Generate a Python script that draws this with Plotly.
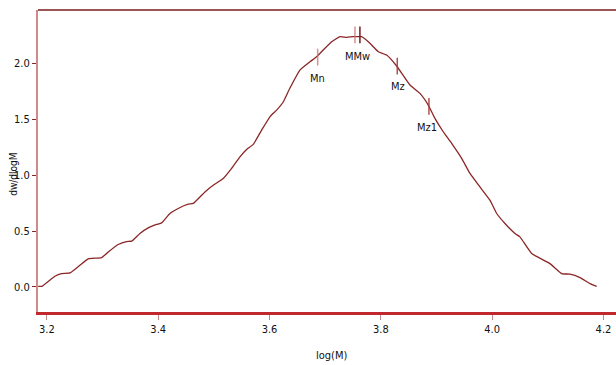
import plotly.graph_objects as go

# Molecular weight distribution curve
log_m = [3.1844, 3.191, 3.2144, 3.2264, 3.2413, 3.2593, 3.2742, 3.2983, 3.3102, 3.3281,
         3.3432, 3.3522, 3.3671, 3.3820, 3.3971, 3.4061, 3.4210, 3.4359, 3.4539, 3.4629,
         3.4839, 3.4988, 3.5168, 3.5319, 3.5468, 3.5588, 3.5707, 3.5858, 3.6007, 3.6128,
         3.6246, 3.6367, 3.6546, 3.6726, 3.6846, 3.6965, 3.7116, 3.7265, 3.7385, 3.7504,
         3.7655, 3.7804, 3.7954, 3.8104, 3.8284, 3.8523, 3.8702, 3.8852, 3.8972, 3.9121,
         3.9272, 3.9452, 3.9601, 3.9780, 3.9960, 4.0081, 4.0230, 4.0410, 4.0499, 4.0710,
         4.1039, 4.1249, 4.1398, 4.1578, 4.1757, 4.1878]
dw_dlogm = [0.006, 0.006, 0.096, 0.120, 0.125, 0.194, 0.251, 0.263, 0.313, 0.380,
            0.406, 0.409, 0.478, 0.528, 0.559, 0.573, 0.657, 0.702, 0.740, 0.747,
            0.850, 0.910, 0.970, 1.060, 1.164, 1.230, 1.275, 1.403, 1.522, 1.582,
            1.654, 1.779, 1.940, 2.014, 2.059, 2.119, 2.193, 2.238, 2.233, 2.238,
            2.238, 2.179, 2.104, 2.074, 1.976, 1.806, 1.731, 1.627, 1.508, 1.388,
            1.284, 1.150, 1.015, 0.895, 0.776, 0.657, 0.568, 0.478, 0.448, 0.299,
            0.209, 0.120, 0.114, 0.084, 0.030, 0.006]

# Average markers
marker_names = ["Mn", "Mp", "Mw", "Mz", "Mz1"]
marker_x = [3.6865, 3.7535, 3.7624, 3.8295, 3.8864]
marker_y = [2.056, 2.255, 2.255, 1.975, 1.615]
marker_colors = ["rgba(200,120,120,0.8)", "rgba(200,120,120,0.8)", "#7a1a1a",
                 "rgba(170,60,60,0.9)", "rgba(170,60,60,0.9)"]
label_texts = ["Mn", "MMw", "Mz", "Mz1"]
label_x = [3.6855, 3.7580, 3.8300, 3.8835]
label_y = [1.86, 2.06, 1.79, 1.43]

x_ticks = [3.2, 3.4, 3.6, 3.8, 4.0, 4.2]
y_ticks = [0.0, 0.5, 1.0, 1.5, 2.0]

FONT = "DejaVu Sans Condensed, Liberation Sans Narrow, Liberation Sans, Arial, sans-serif"

fig = go.Figure()
fig.add_trace(go.Scatter(x=log_m, y=dw_dlogm, mode="lines",
                         line=dict(color="#8b2626", width=1.3, shape="spline", smoothing=0.4),
                         showlegend=False, hoverinfo="skip"))

half = 0.075
for xm, ym, c in zip(marker_x, marker_y, marker_colors):
    fig.add_trace(go.Scatter(x=[xm, xm], y=[ym - half, ym + half], mode="lines",
                             line=dict(color=c, width=1.5), showlegend=False,
                             hoverinfo="skip"))

for t, xl, yl in zip(label_texts, label_x, label_y):
    fig.add_annotation(x=xl, y=yl, text=t, showarrow=False,
                       font=dict(family=FONT, size=11, color="#111"))

# top frame line
fig.add_shape(type="line", xref="paper", yref="paper", x0=0, x1=1, y0=1, y1=1,
              line=dict(color="#7a1c1c", width=1.5))

fig.add_annotation(xref="paper", yref="paper", x=-0.043, y=0.455, text="dw/dlogM",
                   textangle=-90, showarrow=False, xanchor="center",
                   font=dict(family=FONT, size=10, color="#111"))
fig.add_annotation(xref="paper", yref="paper", x=0.508, y=-0.145, text="log(M)",
                   showarrow=False, yanchor="middle",
                   font=dict(family=FONT, size=11, color="#111"))

fig.update_xaxes(range=[3.184, 4.2225], tickvals=x_ticks,
                 ticktext=[f"{v:.1f}" for v in x_ticks],
                 showgrid=False, zeroline=False, showline=True,
                 linecolor="#c0282d", linewidth=2.5, ticks="outside",
                 ticklen=5, tickcolor="#b88", tickwidth=1,
                 tickfont=dict(family=FONT, size=11, color="#111"))
fig.update_yaxes(range=[-0.224, 2.477], tickvals=y_ticks,
                 ticktext=[f"{v:.1f}" for v in y_ticks],
                 showgrid=False, zeroline=False, showline=True,
                 linecolor="#d08a8a", linewidth=2, ticks="outside",
                 ticklen=4, tickcolor="#8b2626", tickwidth=1,
                 tickfont=dict(family=FONT, size=11, color="#111"))

fig.update_layout(width=616, height=365, plot_bgcolor="white", paper_bgcolor="white",
                  margin=dict(l=38, r=0, t=10, b=53))

fig.write_html("out.html")
